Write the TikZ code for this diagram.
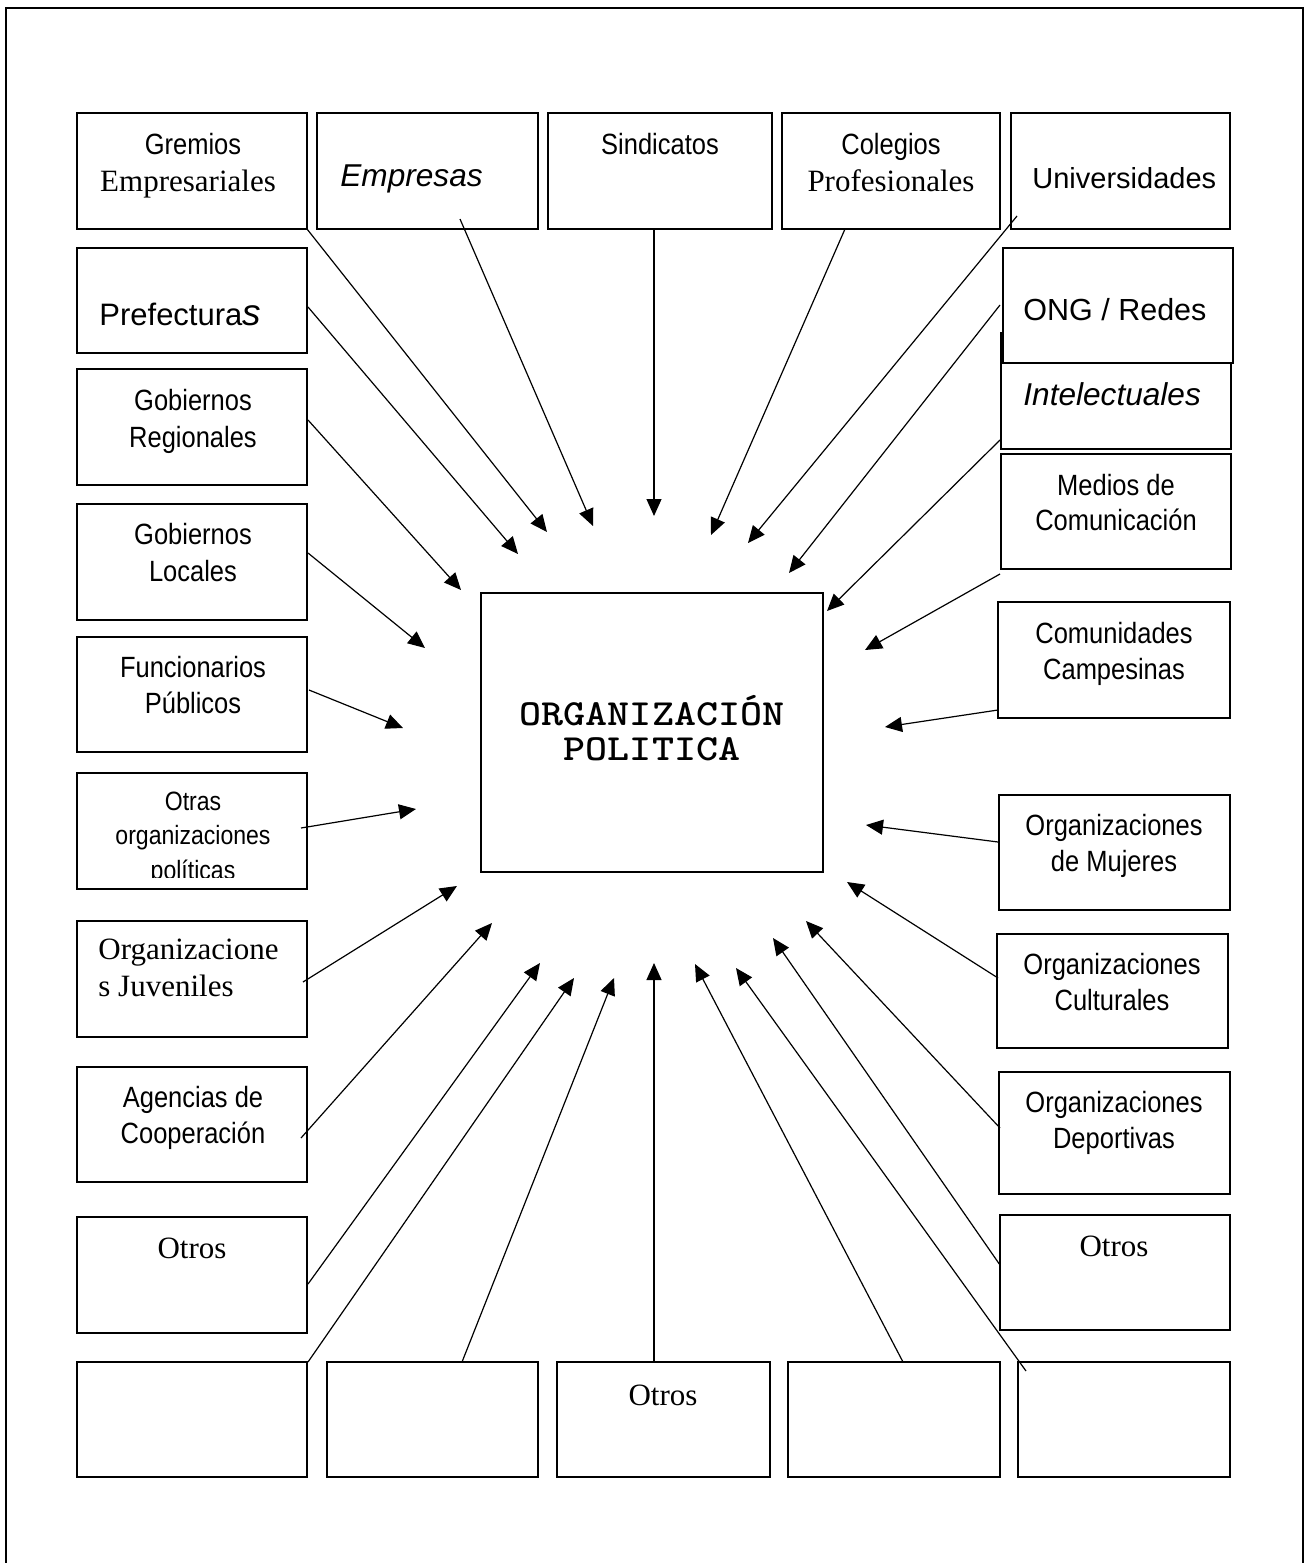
\documentclass[tikz,border=0pt]{standalone}
\usepackage{fontspec}
\setmainfont{Liberation Serif}
\newfontfamily\arialf{Liberation Sans}
\newfontfamily\arialn[FakeStretch=0.87]{Liberation Sans}
\newfontfamily\courf{Liberation Mono}
\usetikzlibrary{arrows.meta,fit}
\newcommand\mkbox[6][]{%
  \coordinate (#2-a) at (#3,#4);
  \coordinate (#2-b) at (#5,#6);
  \node[box,#1,fit=(#2-a)(#2-b)] (#2) {};}
\newcommand\mkarrow[5]{%
  \coordinate (#1-s) at (#2,#3);
  \coordinate (#1-t) at (#4,#5);
  \draw[conn] (#1-s) -- (#1-t);}
\newcommand\wideout[1]{\scalebox{1.14}[1]{\ttfamily\bfseries #1}}
\tikzset{
  box/.style={draw,line width=0.9pt,inner sep=0pt,outer sep=0pt},
  conn/.style={line width=0.6pt,-{Triangle[length=8.5pt,width=7.5pt]}},
  frame/.style={line width=0.8pt},
  ar/.style={font=\arialf\fontsize{14.6}{18}\selectfont,inner sep=0pt,anchor=base},
  arn/.style={font=\arialn\fontsize{14.65}{18}\selectfont,inner sep=0pt,anchor=base},
  arns/.style={font=\arialn\fontsize{13.25}{16}\selectfont,inner sep=0pt,anchor=base},
  tm/.style={font=\fontsize{15.5}{18}\selectfont,inner sep=0pt,anchor=base},
  cr/.style={font=\fontsize{18.4}{22}\selectfont,inner sep=0pt,anchor=base}
}
\begin{document}
\begin{tikzpicture}[x=0.5pt,y=-0.5pt]
\useasboundingbox (0,0) rectangle (1305,1563);
\draw[frame] (6,1575) -- (6,8) -- (1303,8) -- (1303,1575);
% boxes
\mkbox{gremios}{77}{113}{307}{229}
\mkbox{empresas}{317}{113}{538}{229}
\mkbox{sindicatos}{548}{113}{772}{229}
\mkbox{colegios}{782}{113}{1000}{229}
\mkbox{univ}{1011}{113}{1230}{229}
\mkbox{pref}{77}{248}{307}{353}
\mkbox{gobreg}{77}{369}{307}{485}
\mkbox{gobloc}{77}{504}{307}{620}
\mkbox{func}{77}{637}{307}{752}
\mkbox{otras}{77}{773}{307}{889}
\mkbox{juv}{77}{921}{307}{1037}
\mkbox{agen}{77}{1067}{307}{1182}
\mkbox{otrosl}{77}{1217}{307}{1333}
\mkbox{bx1}{77}{1362}{307}{1477}
\mkbox{bx2}{327}{1362}{538}{1477}
\mkbox{bx3}{557}{1362}{770}{1477}
\mkbox{bx4}{788}{1362}{1000}{1477}
\mkbox{bx5}{1018}{1362}{1230}{1477}
\mkbox{intel}{1001}{333}{1231}{449}
\mkbox[fill=white]{ong}{1003}{248}{1233}{363}
\mkbox{medios}{1001}{454}{1231}{569}
\mkbox{comun}{998}{602}{1230}{718}
\mkbox{mujer}{999}{795}{1230}{910}
\mkbox{cultu}{997}{934}{1228}{1048}
\mkbox{depor}{999}{1072}{1230}{1194}
\mkbox{otrosr}{1000}{1215}{1230}{1330}
\mkbox{center}{481}{593}{823}{872}
% texts
\node[arn] (t1a) at (193,154) {Gremios};
\node[tm] (t1b) at (188,191) {Empresariales};
\node[ar,font=\arialf\itshape\fontsize{15.8}{18}\selectfont,anchor=base west] (t2) at (340,186) {Empresas};
\node[arn] (t3) at (660,154) {Sindicatos};
\node[arn] (t4a) at (891,154) {Colegios};
\node[tm] (t4b) at (891,191) {Profesionales};
\node[ar,font=\arialf\fontsize{14.5}{18}\selectfont,anchor=base west] (t5) at (1032,188) {Universidades};
\node[ar,font=\arialf\fontsize{15.5}{18}\selectfont,anchor=base west] (t6) at (99,325) {Prefectura{\itshape\fontsize{18.5}{20}\selectfont s}};
\node[arn] (t7a) at (193,410) {Gobiernos};
\node[arn] (t7b) at (193,447) {Regionales};
\node[arn] (t8a) at (193,544) {Gobiernos};
\node[arn] (t8b) at (193,581) {Locales};
\node[arn] (t9a) at (193,677) {Funcionarios};
\node[arn] (t9b) at (193,713) {Públicos};
\node[arns] (t10a) at (193,810) {Otras};
\node[arns] (t10b) at (193,844) {organizaciones};
\begin{scope}
\clip (78,850) rectangle (306,877);
\node[arns] (t10c) at (193,879) {políticas};
\end{scope}
\node[tm,anchor=base west] (t11a) at (98,959) {Organizacione};
\node[tm,anchor=base west] (t11b) at (98,996) {s Juveniles};
\node[arn] (t12a) at (193,1107) {Agencias de};
\node[arn] (t12b) at (193,1143) {Cooperación};
\node[tm] (t13) at (192,1258) {Otros};
\node[tm] (t14) at (663,1405) {Otros};
\node[tm] (t15) at (1114,1256) {Otros};
\node[ar,font=\arialf\fontsize{15.25}{18}\selectfont,anchor=base west] (t16) at (1023,320) {ONG / Redes};
\node[ar,font=\arialf\itshape\fontsize{15.8}{18}\selectfont,anchor=base west] (t17) at (1023,405) {Intelectuales};
\node[arn] (t18a) at (1116,495) {Medios de};
\node[arn] (t18b) at (1116,530) {Comunicación};
\node[arn] (t19a) at (1114,643) {Comunidades};
\node[arn] (t19b) at (1114,679) {Campesinas};
\node[arn] (t20a) at (1114,835) {Organizaciones};
\node[arn] (t20b) at (1114,871) {de Mujeres};
\node[arn] (t21a) at (1112,974) {Organizaciones};
\node[arn] (t21b) at (1112,1010) {Culturales};
\node[arn] (t22a) at (1114,1112) {Organizaciones};
\node[arn] (t22b) at (1114,1148) {Deportivas};
\node[cr] (tc1) at (652,725) {\wideout{ORGANIZACIÓN}};
\node[cr] (tc2) at (652,760) {\wideout{POLITICA}};
% connectors
\mkarrow{gre}{307}{229}{547}{532}
\mkarrow{emp}{460}{219}{593}{526}
\mkarrow{sin}{654}{229}{654}{516}
\mkarrow{col}{845}{229}{711}{535}
\mkarrow{uni}{1017}{216}{748}{543}
\mkarrow{ongc}{1000}{305}{789}{573}
\mkarrow{int}{1000}{440}{827}{611}
\mkarrow{med}{1000}{574}{865}{650}
\mkarrow{com}{998}{710}{885}{727}
\mkarrow{muj}{998}{842}{866}{825}
\mkarrow{cul}{998}{978}{847}{882}
\mkarrow{dep}{1000}{1128}{806}{921}
\mkarrow{otr}{1000}{1265}{773}{938}
\mkarrow{bb5}{1026}{1371}{736}{968}
\mkarrow{bb4}{903}{1362}{695}{964}
\mkarrow{bb3}{654}{1362}{654}{963}
\mkarrow{bb2}{462}{1362}{614}{978}
\mkarrow{bb1}{308}{1362}{574}{978}
\mkarrow{otl}{308}{1284}{540}{963}
\mkarrow{age}{301}{1138}{492}{923}
\mkarrow{juvc}{303}{982}{457}{886}
\mkarrow{otp}{301}{828}{416}{809}
\mkarrow{fun}{309}{690}{403}{728}
\mkarrow{loc}{308}{553}{425}{648}
\mkarrow{reg}{308}{420}{461}{590}
\mkarrow{pre}{308}{307}{518}{554}
\end{tikzpicture}
\end{document}
